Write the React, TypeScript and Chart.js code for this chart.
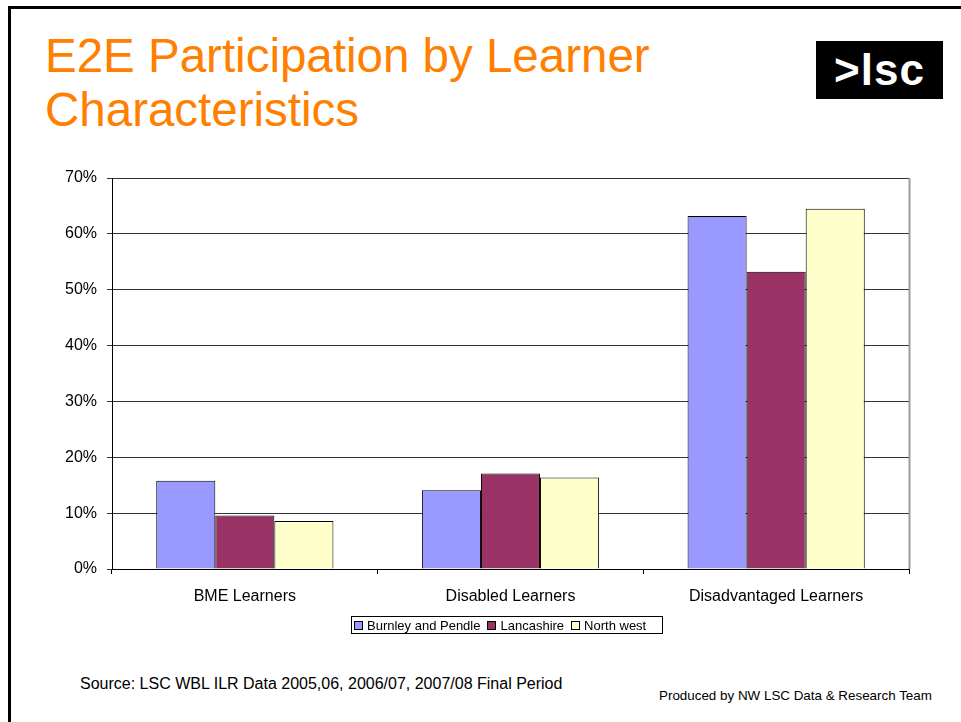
import React, { useEffect, useRef } from "react";
import { Chart, registerables } from "chart.js";

Chart.register(...registerables);

const categories = ["BME Learners", "Disabled Learners", "Disadvantaged Learners"];
const seriesNames = ["Burnley and Pendle", "Lancashire", "North west"];
const burnleyValues = [15.8, 14.1, 63.2];
const lancashireValues = [9.6, 17.1, 53.2];
const northWestValues = [8.6, 16.4, 64.5];
const seriesColors = ["#9999FF", "#993366", "#FFFFCC"];
const yMax = 70;
const yStep = 10;
const titleLines = ["E2E Participation by Learner", "Characteristics"];
const sourceText = "Source: LSC WBL ILR Data 2005,06, 2006/07, 2007/08 Final Period";
const producedText = "Produced by NW LSC Data & Research Team";

const FONT = "'Liberation Sans', Arial, Helvetica, sans-serif";

const plotBorderPlugin = {
  id: "plotBorder",
  afterDraw(chart: any) {
    const { ctx, chartArea } = chart;
    ctx.save();
    ctx.strokeStyle = "#9a9a9a";
    ctx.lineWidth = 2;
    ctx.beginPath();
    ctx.moveTo(chartArea.right + 0.5, chartArea.top);
    ctx.lineTo(chartArea.right + 0.5, chartArea.bottom);
    ctx.stroke();
    ctx.restore();
  },
};

export default function App() {
  const canvasRef = useRef<HTMLCanvasElement | null>(null);

  useEffect(() => {
    if (!canvasRef.current) return;
    const allSeries = [burnleyValues, lancashireValues, northWestValues];
    const chart = new Chart(canvasRef.current, {
      type: "bar",
      data: {
        labels: categories,
        datasets: seriesNames.map((name, i) => ({
          label: name,
          data: allSeries[i],
          backgroundColor: seriesColors[i],
          borderColor: "#000000",
          borderWidth: 1,
          categoryPercentage: 0.667,
          barPercentage: 1.0,
        })),
      },
      options: {
        responsive: false,
        animation: false,
        devicePixelRatio: 1,
        layout: { padding: { left: 0, right: 52, top: 28, bottom: 21 } },
        plugins: {
          legend: { display: false },
          tooltip: { enabled: false },
        },
        scales: {
          x: {
            afterFit: (scale: any) => {
              scale.height = 40;
            },
            grid: {
              offset: true,
              drawOnChartArea: false,
              drawTicks: true,
              tickLength: 5,
              color: "#000000",
            },
            border: { color: "#000000", width: 1 },
            ticks: {
              color: "#000000",
              font: { family: FONT, size: 16 },
              padding: 13,
              maxRotation: 0,
            },
          },
          y: {
            min: 0,
            max: yMax,
            afterFit: (scale: any) => {
              scale.width = 112;
            },
            grid: {
              color: "#333333",
              lineWidth: 1,
              drawTicks: true,
              tickLength: 5,
            },
            border: { color: "#000000", width: 1 },
            ticks: {
              stepSize: yStep,
              color: "#000000",
              font: { family: FONT, size: 16 },
              padding: 10,
              callback: (v: any) => `${v}%`,
            },
          },
        },
      },
      plugins: [plotBorderPlugin],
    });
    return () => chart.destroy();
  }, []);

  return (
    <div
      style={{
        position: "absolute",
        left: 0,
        top: 0,
        width: 961,
        height: 722,
        overflow: "hidden",
        background: "#ffffff",
        fontFamily: FONT,
      }}
    >
      <div
        style={{
          position: "absolute",
          left: 8,
          top: 6,
          width: 1100,
          height: 900,
          borderLeft: "3px solid #000",
          borderTop: "3px solid #000",
        }}
      />
      <div
        style={{
          position: "absolute",
          left: 45,
          top: 29,
          fontSize: 47.5,
          lineHeight: "54px",
          color: "#FF8000",
          whiteSpace: "nowrap",
        }}
      >
        {titleLines.map((t, i) => (
          <div key={i}>{t}</div>
        ))}
      </div>
      <div
        style={{
          position: "absolute",
          left: 816,
          top: 41,
          width: 127,
          height: 58,
          background: "#000",
          color: "#fff",
          fontWeight: "bold",
          fontSize: 44,
          lineHeight: "58px",
          textAlign: "center",
          letterSpacing: 1,
        }}
      >
        {">lsc"}
      </div>
      <canvas
        ref={canvasRef}
        width={961}
        height={480}
        style={{ position: "absolute", left: 0, top: 150, width: 961, height: 480 }}
      />
      <div
        style={{
          position: "absolute",
          left: 351,
          top: 616,
          width: 310,
          height: 16,
          border: "1px solid #000",
          display: "flex",
          alignItems: "center",
          fontSize: 13,
          color: "#000",
          whiteSpace: "nowrap",
        }}
      >
        {seriesNames.map((name, i) => (
          <div key={name} style={{ display: "flex", alignItems: "center", marginLeft: i === 0 ? 2 : 7 }}>
            <span
              style={{
                display: "inline-block",
                width: 7,
                height: 7,
                background: seriesColors[i],
                border: "1px solid #000",
                marginRight: 4,
              }}
            />
            <span>{name}</span>
          </div>
        ))}
      </div>
      <div
        style={{
          position: "absolute",
          left: 80,
          top: 676,
          fontSize: 16,
          lineHeight: "16px",
          color: "#000",
          whiteSpace: "nowrap",
        }}
      >
        {sourceText}
      </div>
      <div
        style={{
          position: "absolute",
          left: 659,
          top: 689,
          fontSize: 13.4,
          lineHeight: "13px",
          color: "#000",
          whiteSpace: "nowrap",
        }}
      >
        {producedText}
      </div>
    </div>
  );
}
